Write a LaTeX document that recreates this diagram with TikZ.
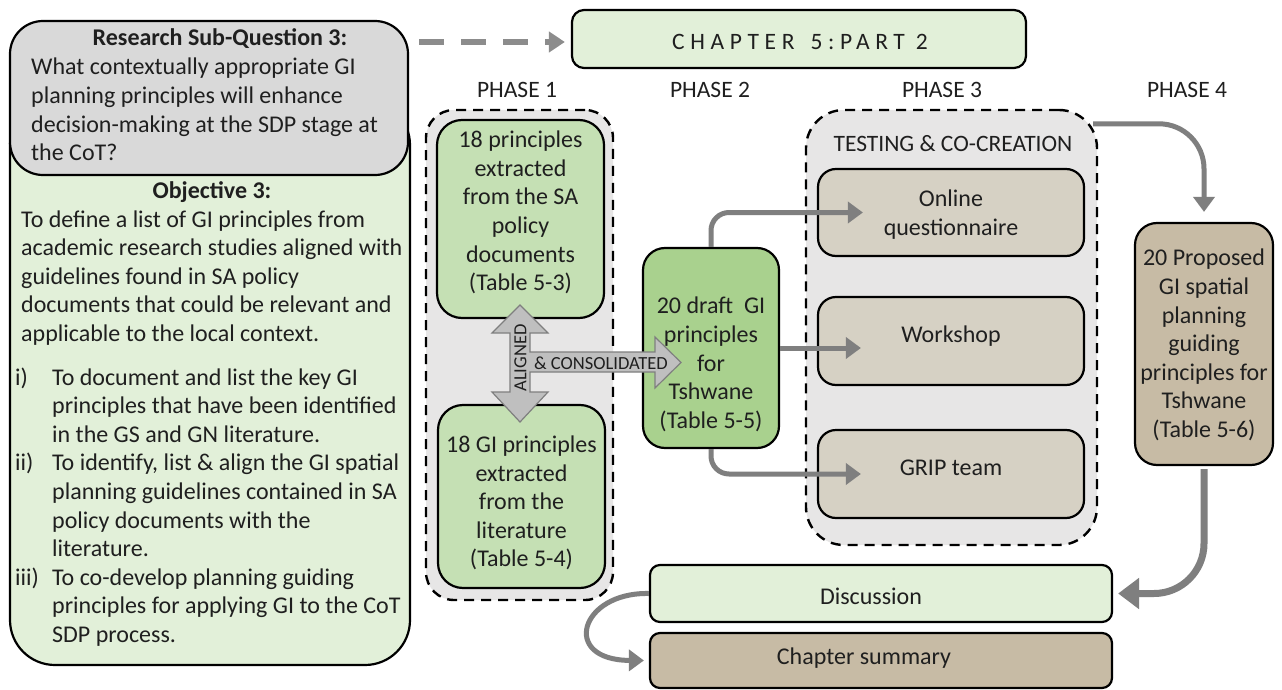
\documentclass[tikz,border=0pt]{standalone}
\usepackage{fontspec}
\setmainfont{Carlito}
\usetikzlibrary{arrows.meta,calc}

\definecolor{lgreen}{HTML}{E2F0D9}
\definecolor{mgreen}{HTML}{C5E0B4}
\definecolor{dgreen}{HTML}{A9D18E}
\definecolor{rqgray}{HTML}{D9D9D9}
\definecolor{framegray}{HTML}{E7E6E6}
\definecolor{tanlight}{HTML}{D6D1C4}
\definecolor{tandark}{HTML}{C7BBA5}
\definecolor{conngray}{HTML}{7F7F7F}
\definecolor{fatgray}{HTML}{BFBFBF}
\definecolor{dashgray}{HTML}{8C8C8C}
\definecolor{ink}{HTML}{1F1F1F}

\newcommand\fsz[1]{\fontsize{#1}{28.6}\selectfont}

\begin{document}
\begin{tikzpicture}[x=1pt,y=-1pt,
  pbox/.style={draw=black, line width=2.2pt, inner sep=0pt},
  frame/.style={draw=black, line width=2.4pt, dash pattern=on 10pt off 7pt,
                fill=framegray, inner sep=0pt},
  lbl/.style={inner sep=0pt, text=ink, align=center, font=\fsz{24}},
  txt/.style={inner sep=0pt, text=ink, font=\fsz{24}},
  phase/.style={inner sep=0pt, text=ink, font=\fsz{23.5}},
  small/.style={inner sep=0pt, text=ink, font=\fsz{18.5}},
  conn/.style={draw=conngray, line width=5pt, -{Triangle[length=15pt,width=21pt]}},
  bigconn/.style={draw=conngray, line width=7pt, -{Triangle[length=21pt,width=30pt]}},
  dashconn/.style={draw=dashgray, line width=6pt, dash pattern=on 25pt off 17pt,
                   -{Triangle[length=16pt,width=20pt]}}]

\fill[white] (0,0) rectangle (1282,690);
\useasboundingbox (0,0) rectangle (1282,690);

% ---------- left column: research question and objective ----------
\node[pbox, fill=lgreen, rounded corners=45pt, minimum width=400pt, minimum height=565pt] (obj) at (210,382.5) {};
\node[pbox, fill=rqgray, rounded corners=33pt, minimum width=398pt, minimum height=154pt] (rq) at (209,98) {};

\node[txt, font=\fsz{24}\bfseries, anchor=base] (rq-title) at (220,46) {Research Sub-Question 3:};
\node[txt, anchor=base west] (rq-text) at (31,75) {\begin{tabular}[t]{@{}l@{}}
What contextually appropriate GI\\
planning principles will enhance\\
decision-making at the SDP stage at\\
the CoT?\end{tabular}};

\node[txt, font=\fsz{24}\bfseries, anchor=base] (obj-title) at (212,198) {Objective 3:};
\node[txt, anchor=base west] (obj-text) at (21,227) {\begin{tabular}[t]{@{}l@{}}
To define a list of GI principles from\\
academic research studies aligned with\\
guidelines found in SA policy\\
documents that could be relevant and\\
applicable to the local context.\end{tabular}};
\node[txt, anchor=base west] (obj-list) at (15,385) {\begin{tabular}[t]{@{}p{37pt}@{}l@{}}
i) & To document and list the key GI\\
   & principles that have been identified\\
   & in the GS and GN literature.\\
ii) & To identify, list \& align the GI spatial\\
    & planning guidelines contained in SA\\
    & policy documents with the\\
    & literature.\\
iii) & To co-develop planning guiding\\
     & principles for applying GI to the CoT\\
     & SDP process.\end{tabular}};

% ---------- chapter banner and phase headings ----------
\node[pbox, fill=lgreen, rounded corners=12pt, minimum width=454pt, minimum height=58pt] (chap) at (799,39) {};
\node[phase] (chap-text) at (800,42) {\addfontfeatures{LetterSpace=24}CHAPTER\hspace{16pt}5:PART 2};

\node[phase] (ph1-label) at (517,89.5) {PHASE 1};
\node[phase] (ph2-label) at (710,89.5) {PHASE 2};
\node[phase] (ph3-label) at (942,89.5) {PHASE 3};
\node[phase] (ph4-label) at (1187,89.5) {PHASE 4};

% ---------- phase containers ----------
\node[frame, rounded corners=28pt, minimum width=187pt, minimum height=490pt] (ph1) at (519.5,355) {};
\node[frame, rounded corners=38pt, minimum width=291pt, minimum height=435pt] (ph3) at (951.5,327.5) {};
\node[phase] (ph3-title) at (953,143.5) {TESTING \& CO-CREATION};

% ---------- phase 1 ----------
\node[pbox, fill=mgreen, rounded corners=25pt, minimum width=167pt, minimum height=198pt] (s1) at (520.5,219) {};
\node[lbl] (s1-text) at (520.5,212.5) {18 principles\\extracted\\from the SA\\policy\\documents\\(Table 5-3)};
\node[pbox, fill=mgreen, rounded corners=25pt, minimum width=167pt, minimum height=183pt] (s2) at (521.5,496.5) {};
\node[lbl] (s2-text) at (521.5,503) {18 GI principles\\extracted\\from the\\literature\\(Table 5-4)};

% ---------- phase 2 ----------
\node[pbox, fill=dgreen, rounded corners=22pt, minimum width=136pt, minimum height=200pt] (draft) at (711,348) {};
\node[lbl] (draft-text) at (711,364.5) {20 draft~ GI\\principles\\for\\Tshwane\\(Table 5-5)};

% ---------- phase 3 ----------
\node[pbox, fill=tanlight, rounded corners=18pt, minimum width=266pt, minimum height=87pt] (online) at (951,212.5) {};
\node[lbl] (online-text) at (951,214.5) {Online\\questionnaire};
\node[pbox, fill=tanlight, rounded corners=18pt, minimum width=266pt, minimum height=88pt] (workshop) at (951,341) {};
\node[lbl] (workshop-text) at (951,336) {Workshop};
\node[pbox, fill=tanlight, rounded corners=18pt, minimum width=266pt, minimum height=88pt] (grip) at (951,474) {};
\node[lbl] (grip-text) at (951,468) {GRIP team};

% ---------- phase 4 ----------
\node[pbox, fill=tandark, rounded corners=22pt, minimum width=138pt, minimum height=242pt] (proposed) at (1204,344) {};
\node[lbl] (proposed-text) at (1204,345) {20 Proposed\\GI spatial\\planning\\guiding\\principles for\\Tshwane\\(Table 5-6)};

% ---------- closing boxes ----------
\node[pbox, fill=lgreen, rounded corners=10pt, minimum width=462pt, minimum height=57pt] (disc) at (881,593.5) {};
\node[lbl] (disc-text) at (871,596) {Discussion};
\node[pbox, fill=tandark, rounded corners=10pt, minimum width=462pt, minimum height=55pt] (summ) at (881,660.5) {};
\node[lbl] (summ-text) at (864,658) {Chapter summary};

% ---------- connectors ----------
\draw[dashconn] ($(rq.east |- chap.west)+(10,3)$) -- ($(chap.west)+(-6,3)$);

\draw[conn, rounded corners=18pt] (draft.north) |- ($(online.west)+(46,0)$);
\draw[conn] (draft.east) -- ($(workshop.west |- draft.east)+(44,0)$);
\draw[conn, rounded corners=18pt] (draft.south) |- ($(grip.west)+(44,0)$);

\draw[conn, rounded corners=45pt] ($(ph3.north east)+(-5,15)$) -| ($(proposed.north)+(0,-10)$);
\draw[bigconn, rounded corners=50pt] ($(proposed.south)+(0,3)$) |- ($(disc.east)+(5,0)$);
\draw[conn] (disc.west) .. controls (580,592) and (560,660) .. ($(summ.west)+(-5,0)$);

% aligned & consolidated block arrow
\draw[fill=fatgray, draw=conngray, line width=1.2pt, line join=miter]
  (520,305) -- (548,333) -- (530,333) -- (530,352) -- (655,352) -- (655,337)
  -- (681,362.5) -- (655,388) -- (655,372) -- (530,372) -- (530,392) -- (548,392)
  -- (520,422) -- (492,392) -- (510,392) -- (510,333) -- (492,333) -- cycle;
\node[small, rotate=90] (aligned) at (520.5,358) {ALIGNED};
\node[small] (consolidated) at (601,363) {\& CONSOLIDATED};

\end{tikzpicture}
\end{document}
